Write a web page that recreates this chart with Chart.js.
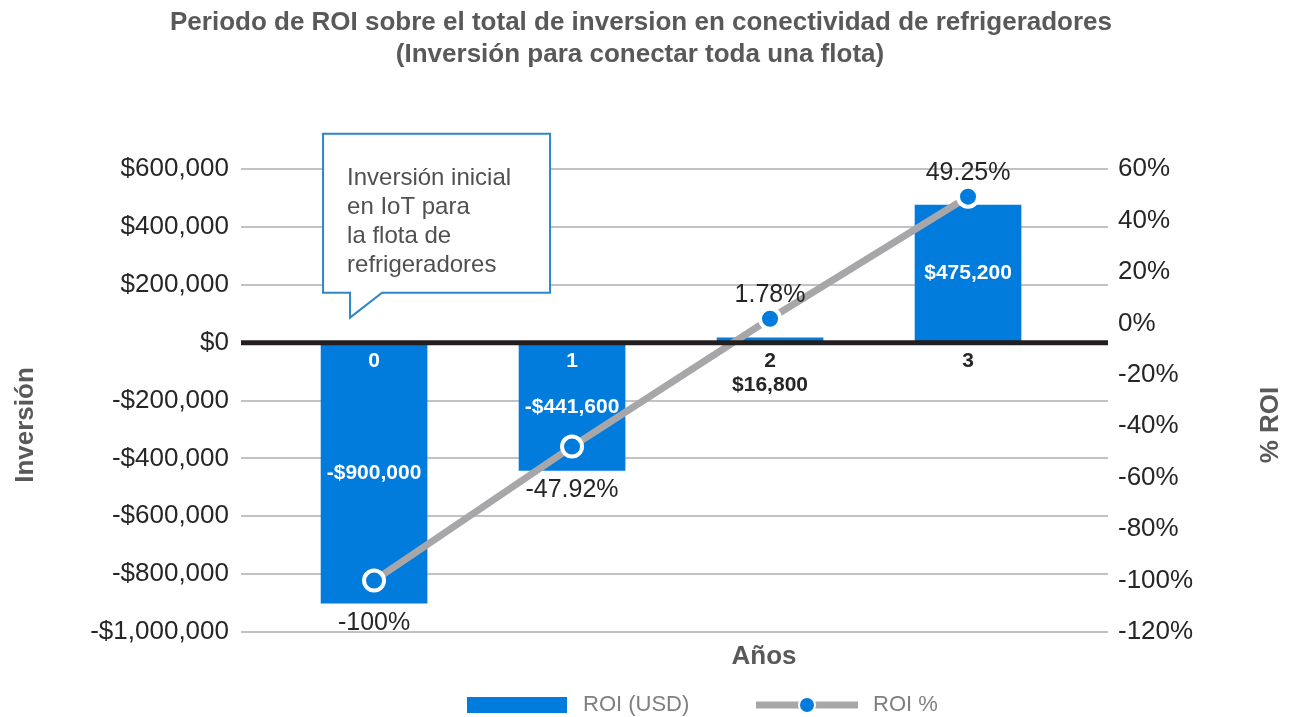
<!DOCTYPE html>
<html>
<head>
<meta charset="utf-8">
<script src="https://cdn.jsdelivr.net/npm/chart.js@4.4.1/dist/chart.umd.min.js"></script>
<style>
    html, body { margin: 0; padding: 0; background: #ffffff; }
    #wrap { width: 1292px; height: 717px; }
</style>
</head>
<body>
<div id="wrap"><canvas id="roiChart" width="1292" height="717"></canvas></div>
<script>
// Datos del gráfico
const years = [0, 1, 2, 3];
const roiUsd = [-900000, -441600, 16800, 475200];
const roiPct = [-100, -47.92, 1.78, 49.25];
const usdTicks = [-1000000, -800000, -600000, -400000, -200000, 0, 200000, 400000, 600000];
const pctTicks = [-120, -100, -80, -60, -40, -20, 0, 20, 40, 60];
const titleLines = [
    'Periodo de ROI sobre el total de inversion en conectividad de refrigeradores',
    '(Inversión para conectar toda una flota)'
];
const calloutLines = ['Inversión inicial', 'en IoT para', 'la flota de', 'refrigeradores'];

const FONT = "'Liberation Sans', Arial, sans-serif";
const BLUE = '#027cdc';
const LINE_GRAY = '#a7a7a9';
const TEXT_DARK = '#262626';

function fmtUsd(v) {
    return (v < 0 ? '-' : '') + '$' + Math.abs(v).toLocaleString('en-US');
}

// dibujo de textos, línea cero, leyenda y globo
const overlayPlugin = {
    id: 'overlay',
    afterDatasetsDraw(chart) {
        const { ctx, chartArea, scales } = chart;
        const zeroY = scales.y.getPixelForValue(0);
        const bars = chart.getDatasetMeta(0).data;
        const pts = chart.getDatasetMeta(1).data;

        ctx.save();
        // línea del cero
        ctx.strokeStyle = '#231f20';
        ctx.lineWidth = 5;
        ctx.beginPath();
        ctx.moveTo(chartArea.left, zeroY);
        ctx.lineTo(chartArea.right, zeroY);
        ctx.stroke();

        ctx.textAlign = 'center';
        ctx.textBaseline = 'middle';

        bars.forEach((bar, i) => {
            const v = roiUsd[i];
            // etiqueta del año
            ctx.font = 'bold 21px ' + FONT;
            ctx.fillStyle = v < 0 ? '#ffffff' : TEXT_DARK;
            ctx.fillText(String(years[i]), bar.x, zeroY + 19);
            // valor de la barra
            const h = Math.abs(bar.base - bar.y);
            if (h > 40) {
                ctx.fillStyle = '#ffffff';
                ctx.fillText(fmtUsd(v), bar.x, (bar.y + bar.base) / 2);
            } else {
                ctx.fillStyle = TEXT_DARK;
                ctx.fillText(fmtUsd(v), bar.x, zeroY + 43);
            }
        });

        // etiquetas de porcentaje
        ctx.font = '25px ' + FONT;
        ctx.fillStyle = TEXT_DARK;
        pts.forEach((pt, i) => {
            const bar = bars[i];
            let ly;
            if (roiPct[i] < 0) {
                ly = Math.max(pt.y + 36, Math.max(bar.y, bar.base) + 20);
            } else {
                ly = Math.min(pt.y - 24, Math.min(bar.y, bar.base) - 16);
            }
            ctx.fillText(roiPct[i] + '%', pt.x, ly);
        });

        // globo de texto
        const x0 = scales.x.getPixelForValue(years[0]);
        const bl = x0 - 51, br = x0 + 176, bt = zeroY - 209, bb = zeroY - 50;
        ctx.beginPath();
        ctx.moveTo(bl, bt);
        ctx.lineTo(br, bt);
        ctx.lineTo(br, bb);
        ctx.lineTo(x0 + 8, bb);
        ctx.lineTo(x0 - 24, zeroY - 25);
        ctx.lineTo(x0 - 24, bb);
        ctx.lineTo(bl, bb);
        ctx.closePath();
        ctx.fillStyle = '#ffffff';
        ctx.fill();
        ctx.strokeStyle = '#2e86c8';
        ctx.lineWidth = 2;
        ctx.stroke();
        ctx.fillStyle = '#505050';
        ctx.font = '24px ' + FONT;
        ctx.textAlign = 'left';
        calloutLines.forEach((line, i) => {
            ctx.fillText(line, x0 - 27, bt + 45 + i * 29);
        });
        ctx.restore();
    },
    afterDraw(chart) {
        const { ctx } = chart;
        ctx.save();
        ctx.textAlign = 'center';
        ctx.textBaseline = 'middle';

        // título
        ctx.fillStyle = '#595959';
        ctx.font = 'bold 26px ' + FONT;
        ctx.fillText(titleLines[0], 641, 23);
        ctx.fillText(titleLines[1], 640, 55);

        // títulos de ejes
        ctx.font = 'bold 26px ' + FONT;
        ctx.fillText('Años', 764, 657);
        ctx.save();
        ctx.translate(26, 425);
        ctx.rotate(-Math.PI / 2);
        ctx.fillText('Inversión', 0, 0);
        ctx.restore();
        ctx.save();
        ctx.translate(1271, 425);
        ctx.rotate(-Math.PI / 2);
        ctx.fillText('% ROI', 0, 0);
        ctx.restore();

        // leyenda
        const ds = chart.data.datasets;
        const ly = 705;
        ctx.fillStyle = ds[0].backgroundColor;
        ctx.fillRect(467, ly - 8, 100, 16);
        ctx.fillStyle = '#7f7f7f';
        ctx.font = '22px ' + FONT;
        ctx.textAlign = 'left';
        ctx.fillText(ds[0].label, 583, ly);

        ctx.strokeStyle = ds[1].borderColor;
        ctx.lineWidth = 7;
        ctx.beginPath();
        ctx.moveTo(756, ly);
        ctx.lineTo(858, ly);
        ctx.stroke();
        ctx.beginPath();
        ctx.arc(807, ly, 9, 0, Math.PI * 2);
        ctx.fillStyle = '#ffffff';
        ctx.fill();
        ctx.beginPath();
        ctx.arc(807, ly, 7, 0, Math.PI * 2);
        ctx.fillStyle = ds[1].pointBackgroundColor;
        ctx.fill();
        ctx.fillStyle = '#7f7f7f';
        ctx.fillText(ds[1].label, 873, ly);
        ctx.restore();
    }
};

function initRoiChart() {
    const el = document.getElementById('roiChart');
    if (!el || typeof Chart === 'undefined') return;

    new Chart(el, {
        type: 'bar',
        data: {
            datasets: [{
                type: 'bar',
                label: 'ROI (USD)',
                data: years.map((x, i) => ({ x: x, y: roiUsd[i] })),
                backgroundColor: BLUE,
                barThickness: 106,
                xAxisID: 'x',
                yAxisID: 'y',
                order: 2
            }, {
                type: 'line',
                label: 'ROI %',
                data: years.map((x, i) => ({ x: x, y: roiPct[i] })),
                borderColor: LINE_GRAY,
                borderWidth: 7,
                pointRadius: 10,
                pointBorderWidth: 4,
                pointBorderColor: '#ffffff',
                pointBackgroundColor: BLUE,
                tension: 0,
                xAxisID: 'x',
                yAxisID: 'y1',
                order: 1
            }]
        },
        options: {
            responsive: false,
            animation: false,
            devicePixelRatio: 1,
            layout: { padding: { top: 169, bottom: 85, left: 0, right: 0 } },
            plugins: {
                legend: { display: false },
                title: { display: false },
                tooltip: { enabled: false }
            },
            scales: {
                x: {
                    type: 'linear',
                    display: false,
                    offset: false,
                    min: -0.672,
                    max: 3.707
                },
                y: {
                    position: 'left',
                    min: usdTicks[0],
                    max: usdTicks[usdTicks.length - 1],
                    afterBuildTicks: (axis) => { axis.ticks = usdTicks.map(v => ({ value: v })); },
                    afterFit: (axis) => { axis.width = 241; },
                    border: { display: false },
                    grid: {
                        drawTicks: false,
                        lineWidth: 2,
                        color: (c) => c.tick && c.tick.value === 0 ? 'rgba(0,0,0,0)' : '#c2c2c6'
                    },
                    ticks: {
                        padding: 12,
                        color: TEXT_DARK,
                        font: { family: FONT, size: 26 },
                        callback: (v) => fmtUsd(v)
                    }
                },
                y1: {
                    position: 'right',
                    min: pctTicks[0],
                    max: pctTicks[pctTicks.length - 1],
                    afterBuildTicks: (axis) => { axis.ticks = pctTicks.map(v => ({ value: v })); },
                    afterFit: (axis) => { axis.width = 184; },
                    border: { display: false },
                    grid: { display: false, drawTicks: false },
                    ticks: {
                        padding: 10,
                        color: TEXT_DARK,
                        font: { family: FONT, size: 26 },
                        callback: (v) => v + '%'
                    }
                }
            }
        },
        plugins: [overlayPlugin]
    });
}

document.addEventListener('DOMContentLoaded', initRoiChart);
</script>
</body>
</html>
